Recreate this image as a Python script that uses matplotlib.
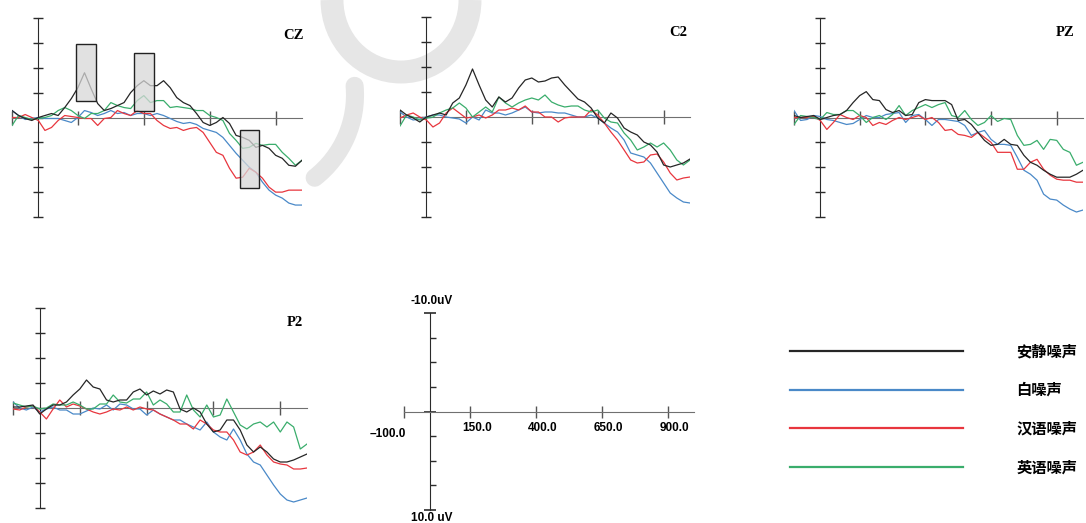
import matplotlib
matplotlib.use("Agg")
import matplotlib.pyplot as plt
from matplotlib.patches import Rectangle, Arc
from matplotlib.lines import Line2D
from matplotlib.transforms import ScaledTranslation

W, H = 1086, 523

# time axis (ms), one sample every 25 ms
times = list(range(-100, 1001, 25))

# amplitudes in uV (negative plotted upward)
cz_quiet = [-0.7, -0.2, 0.1, 0.3, 0, -0.2, -0.4, -0.2, -1.0, -1.9, -3.0, -4.5, -2.9,
            -1.4, -0.7, -0.9, -1.2, -1.5, -2.5, -3.2, -3.7, -3.2, -3.2, -3.7, -3.0,
            -2.0, -1.5, -1.2, -0.4, 0.5, 0.8, 0.5, 0, 0.6, 1.8, 2.0, 2.3,
            3.0, 2.8, 3.1, 3.8, 4.1, 4.8, 4.9, 4.3]
cz_white = [-0.7, -0.2, 0.2, 0.1, 0, 0.1, 0.1, 0.1, 0.3, 0.5, 0, -0.7, -0.5,
            -0.2, -0.4, -0.7, -0.4, -0.5, -0.2, -0.4, -0.4, -0.2, -0.4, -0.2, 0.1,
            0.4, 0.6, 0.5, 0.7, 1.1, 1.3, 1.5, 2.0, 2.8, 3.6, 4.3, 5.0,
            5.5, 6.5, 7.3, 7.8, 8.1, 8.6, 8.8, 8.8]
cz_chinese = [0, 0, -0.3, 0, 0.3, 1.3, 1.0, 0.3, -0.2, -0.1, 0, 0.1, 0.1,
              0.8, 0.1, 0, -0.7, -0.4, -0.2, -0.7, -0.4, -0.4, 0.3, 0.8, 1.1,
              1.0, 1.3, 1.1, 1.0, 1.5, 2.5, 3.5, 3.8, 5.1, 6.1, 6.0, 5.1,
              5.5, 6.1, 7.0, 7.5, 7.5, 7.3, 7.3, 7.3]
cz_english = [0.8, -0.2, 0, 0.2, 0.1, 0, -0.2, -0.7, -1.0, -0.7, -0.2, 0.1, -0.4,
              -0.4, -0.7, -1.5, -1.2, -1.0, -0.9, -1.7, -2.2, -1.5, -1.7, -1.7, -1.0,
              -1.1, -1.0, -0.9, -0.7, -0.7, -0.2, 0, 0.3, 1.6, 2.3, 3.1, 3.0,
              2.6, 2.8, 2.7, 2.7, 3.5, 4.1, 4.8, 4.3]

c2_quiet = [-0.7, -0.2, 0.1, 0.5, 0, -0.2, -0.4, -0.2, -1.4, -1.9, -3.2, -4.8, -3.2,
            -1.7, -1.0, -2.0, -1.5, -1.9, -2.9, -3.7, -3.9, -3.5, -3.6, -3.9, -4.0,
            -3.2, -2.5, -1.8, -1.5, -0.9, 0.1, 0.6, -0.4, 0.1, 1.1, 1.5, 1.8,
            2.5, 2.8, 3.5, 4.8, 5.0, 4.8, 4.6, 4.2]
c2_white = [-0.5, 0, 0.3, 0.2, 0, -0.2, -0.2, 0, 0.1, 0.2, 0.6, 0, 0.3,
            -0.7, -0.4, -0.4, -0.2, -0.4, -0.7, -1.0, -0.5, -0.4, -0.5, -0.5, -0.4,
            -0.4, -0.2, 0, 0, -0.2, 0.1, 0.6, 1.1, 1.5, 2.3, 3.6, 3.8,
            4.0, 4.6, 5.6, 6.6, 7.6, 8.1, 8.5, 8.6]
c2_chinese = [0.1, -0.2, -0.4, 0, 0.3, 1.0, 0.6, -0.4, -0.9, -0.4, 0.1, 0, -0.2,
              0.1, -0.2, -0.7, -0.7, -0.9, -0.7, -1.1, -0.5, -0.5, 0, 0, 0.5,
              0.1, 0, 0, 0, -0.7, -0.2, 0.6, 1.5, 2.3, 3.3, 4.3, 4.6,
              4.5, 3.8, 3.7, 4.5, 5.6, 6.3, 6.1, 6.0]
c2_english = [0.9, -0.2, 0, 0.3, 0.1, 0, -0.4, -0.7, -0.9, -1.4, -0.9, 0, -0.5,
              -1.0, -0.5, -2.0, -1.4, -1.0, -1.4, -1.7, -1.9, -1.7, -2.2, -1.5, -1.2,
              -1.0, -1.1, -1.1, -0.7, -0.5, -0.7, 0.1, 0.5, 0.6, 1.6, 2.3, 3.3,
              3.0, 2.6, 3.0, 2.6, 3.3, 4.3, 4.8, 4.3]

pz_quiet = [-0.2, 0, -0.1, -0.2, 0.2, 0, -0.2, -0.3, -0.7, -1.5, -2.2, -2.6, -1.8,
            -1.7, -0.8, -0.5, -0.7, -0.2, -0.3, -1.5, -1.8, -1.7, -1.7, -1.7, -1.3,
            0.3, 0.2, 0.7, 1.5, 2.3, 2.8, 2.7, 2.2, 2.7, 2.8, 3.8, 4.5,
            4.8, 5.3, 5.7, 6.0, 6.0, 6.0, 5.7, 5.3]
pz_white = [-0.7, 0.3, 0.2, -0.2, -0.1, 0.2, 0.3, 0.5, 0.7, 0.6, 0.2, -0.2, 0,
            0, -0.3, -0.4, -0.5, 0.5, -0.2, -0.3, 0.2, 0.8, 0.2, 0.2, 0.3,
            0.4, 0.8, 1.8, 1.5, 1.3, 2.2, 2.7, 2.7, 2.8, 4.0, 5.3, 5.7,
            6.3, 7.7, 8.2, 8.3, 8.8, 9.2, 9.5, 9.3]
pz_chinese = [0, 0, 0, -0.1, 0.3, 1.2, 0.5, -0.3, 0, 0.2, -0.2, 0, 0.8,
              0.5, 0.7, 0.3, 0, 0.2, 0, -0.2, 0.2, 0, 0.5, 1.3, 1.2,
              1.7, 1.8, 2.0, 1.5, 2.0, 2.5, 3.5, 3.5, 3.5, 5.2, 5.2, 4.5,
              4.2, 5.2, 5.8, 6.2, 6.3, 6.3, 6.5, 6.5]
pz_english = [0.7, -0.2, -0.1, 0, 0.2, -0.5, -0.3, -0.3, -0.7, -0.7, -0.2, 0.5, 0,
              -0.2, 0.2, -0.3, -1.2, -0.2, -0.7, -1.0, -1.3, -1.0, -1.3, -1.5, -0.2,
              0, -0.7, 0.2, 0.8, 0.5, -0.2, 0.4, 0.1, 0.2, 1.8, 2.8, 2.7,
              2.3, 3.2, 2.2, 2.3, 3.2, 3.5, 4.8, 4.5]

p2_quiet = [-0.1, -0.1, -0.2, -0.3, 0.6, 0.1, -0.3, -0.3, -0.6, -1.3, -1.9, -2.8, -2.1,
            -1.9, -0.8, -0.6, -0.8, -0.8, -1.6, -1.9, -1.3, -1.7, -1.4, -1.8, -1.6,
            0.1, 0.4, 0, 0.4, 1.6, 2.4, 2.2, 1.2, 1.2, 2.2, 3.7, 4.4,
            3.9, 4.4, 5.1, 5.4, 5.4, 5.2, 4.9, 4.6]
p2_white = [-0.6, 0, 0.2, -0.1, 0.4, 0.1, -0.1, 0.2, 0.2, 0.6, 0.6, 0.3, 0,
            0.1, -0.3, 0.2, -0.4, -0.3, 0.1, 0.1, 0.7, 0.2, 0.6, 0.9, 1.2,
            1.2, 1.6, 1.9, 2.2, 1.4, 2.4, 2.9, 3.2, 2.1, 3.2, 4.6, 5.4,
            5.7, 6.7, 7.7, 8.6, 9.2, 9.4, 9.2, 9.0]
p2_chinese = [0.1, 0.2, -0.1, -0.2, 0.4, 1.1, 0.1, -0.8, -0.1, -0.4, -0.2, 0.1, 0.4,
              0.6, 0.4, 0.1, 0.2, -0.1, 0.2, -0.1, 0.1, 0.2, 0.6, 0.9, 1.2,
              1.6, 1.6, 2.1, 1.2, 1.6, 2.2, 2.4, 2.4, 3.2, 4.4, 4.7, 4.4,
              3.7, 4.7, 5.4, 5.6, 5.7, 6.1, 6.1, 6.0]
p2_english = [-0.5, -0.3, -0.1, -0.2, 0.1, 0, -0.4, -0.3, -0.3, -0.6, -0.3, 0.1, 0.1,
              -0.4, -0.4, -1.3, -0.6, -0.5, -0.9, -0.9, -1.6, -0.3, -0.8, -0.4, 0.4,
              0.4, -1.3, 0.2, 0.9, -0.3, 0.9, 0.7, -0.9, 0.4, 1.7, 2.1, 1.6,
              1.4, 1.9, 1.4, 2.4, 1.4, 1.9, 4.1, 3.6]

conditions = ["安静噪声", "白噪声", "汉语噪声", "英语噪声"]
colors = ["#262626", "#4a89c8", "#e8363e", "#3aad6c"]

# highlighted windows in CZ: (start ms, end ms, top uV, bottom uV)
cz_windows = [(141, 218, -7.4, -1.7), (361, 437, -6.5, -0.7), (763, 838, 1.3, 7.1)]

x_ticks = [-100, 150, 400, 650, 900]
y_ticks = [-10, -7.5, -5, -2.5, 0, 2.5, 5, 7.5, 10]

fig = plt.figure(figsize=(W / 100, H / 100), dpi=100)


def panel(x0, x1, y0, y1):
    ax = fig.add_axes([x0 / W, 1 - y1 / H, (x1 - x0) / W, (y1 - y0) / H])
    ax.set_facecolor("none")
    ax.set_xlim(-100, 1000)
    ax.set_ylim(10, -10)
    ax.spines["top"].set_visible(False)
    ax.spines["right"].set_visible(False)
    ax.spines["left"].set_position(("data", 0))
    ax.spines["bottom"].set_position(("data", 0))
    ax.spines["left"].set_color("#2b2b2b")
    ax.spines["bottom"].set_color("#707070")
    ax.set_xticks(x_ticks)
    ax.set_yticks(y_ticks)
    ax.tick_params(axis="x", direction="inout", length=10, width=1, color="#555555",
                   labelbottom=False)
    ax.tick_params(axis="y", direction="inout", length=7, width=1, color="#2b2b2b",
                   labelleft=False)
    return ax


def draw_panel(ax, series, name, tx, ty, ha):
    order = [1, 2, 3, 0]
    for i in order:
        ax.plot(times, series[i], color=colors[i], lw=0.9, zorder=3)
    ax.text(tx, ty, name, ha=ha, va="center", fontsize=10.5, fontweight="bold",
            family="Liberation Serif")


# background watermark
bg = fig.add_axes([0, 0, 1, 1], zorder=-5)
bg.set_xlim(0, W)
bg.set_ylim(H, 0)
bg.axis("off")
bg.add_patch(Arc((401, 0), 138, 144, theta1=0, theta2=180, color="#e6e6e6", lw=16.5))
bg.add_patch(Arc((250, 95), 210, 210, theta1=-5, theta2=52, color="#e6e6e6", lw=13,
                 capstyle="round"))

ax_cz = panel(12, 302, 18, 217)
draw_panel(ax_cz, [cz_quiet, cz_white, cz_chinese, cz_english], "CZ", 1008, -8.2, "right")
for t0, t1, v0, v1 in cz_windows:
    ax_cz.add_patch(Rectangle((t0, v0), t1 - t0, v1 - v0, facecolor="#d8d8d8", alpha=0.75,
                              edgecolor="none", zorder=4))
    ax_cz.add_patch(Rectangle((t0, v0), t1 - t0, v1 - v0, facecolor="none",
                              edgecolor="#222222", lw=1, zorder=5))

ax_c2 = panel(400, 690, 17, 217)
draw_panel(ax_c2, [c2_quiet, c2_white, c2_chinese, c2_english], "C2", 955, -8.4, "center")

ax_pz = panel(794, 1083, 18, 217)
draw_panel(ax_pz, [pz_quiet, pz_white, pz_chinese, pz_english], "PZ", 931, -8.5, "center")

ax_p2 = panel(13, 307, 308, 508)
draw_panel(ax_p2, [p2_quiet, p2_white, p2_chinese, p2_english], "P2", 955, -8.6, "center")

# scale panel
ax_s = panel(404, 694, 313, 510)
ax_s.set_yticks([-7.5, -5, -2.5, 2.5, 5, 7.5])
ax_s.set_yticks([-10, 0, 10], minor=True)
ax_s.tick_params(axis="y", which="major", direction="in", length=4, width=1)
ax_s.tick_params(axis="y", which="minor", direction="inout", length=8, width=1.2,
                 color="#2b2b2b")
ax_s.tick_params(axis="x", direction="inout", length=9, width=1, labelbottom=True,
                 pad=3, labelsize=8.5)
ax_s.set_xticklabels(["", "150.0", "400.0", "650.0", "900.0"], fontweight="bold",
                     family="Liberation Sans")
for lab in ax_s.get_xticklabels():
    lab.set_transform(lab.get_transform() + ScaledTranslation(0.07, 0, fig.dpi_scale_trans))
ax_s.text(5, -11.2, "-10.0uV", ha="center", va="center", fontsize=8.5, fontweight="bold",
          family="Liberation Sans")
ax_s.text(5, 10.8, "10.0 uV", ha="center", va="center", fontsize=8.5, fontweight="bold",
          family="Liberation Sans")
ax_s.text(-160, 2.3, "\u2013100.0", ha="center", va="center", fontsize=8.5,
          fontweight="bold", family="Liberation Sans")

# legend
handles = [Line2D([], [], color=c, lw=1.6) for c in colors]
fig.legend(handles, conditions, loc="upper left", bbox_to_anchor=(790 / W, 1 - 343 / H),
           frameon=False, borderpad=0, borderaxespad=0, handlelength=11.3,
           handletextpad=3.5, labelspacing=1.5,
           prop={"family": ["Noto Sans CJK SC", "DejaVu Sans"], "weight": "bold", "size": 11})

fig.savefig("out.png", dpi=100)
